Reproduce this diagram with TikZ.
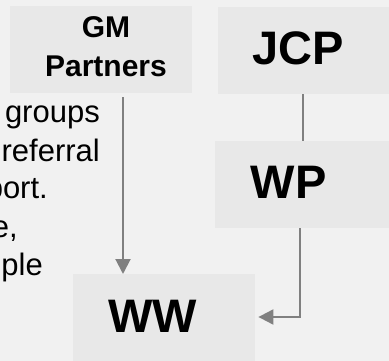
\documentclass[tikz,border=0pt]{standalone}
\usepackage{fontspec}
\setmainfont{Liberation Sans}
\usetikzlibrary{arrows.meta,calc}
\definecolor{bgc}{HTML}{F1F1F1}
\definecolor{boxc}{HTML}{E8E8E8}
\definecolor{linec}{HTML}{808080}
\begin{document}
\begin{tikzpicture}[x=1pt,y=-1pt,
 box/.style={fill=boxc, draw=none, inner sep=0pt, anchor=north west},
 big/.style={font=\fontsize{47}{50}\selectfont\bfseries, inner sep=0pt, anchor=base},
 mid/.style={font=\fontsize{30}{39}\selectfont\bfseries, inner sep=0pt, anchor=base},
 body/.style={font=\fontsize{31}{38}\selectfont, inner sep=0pt, anchor=base east},
 conn/.style={draw=linec, line width=2pt},
 arr/.style={conn, -{Triangle[length=15pt,width=15pt]}}]
\clip (0,0) rectangle (389,361);
\fill[bgc] (0,0) rectangle (389,361);
% boxes
\node[box, minimum width=182pt, minimum height=87pt] (gm) at (10,6) {};
\node[box, minimum width=171pt, minimum height=87pt] (jcp) at (218,7) {};
\node[box, minimum width=174pt, minimum height=87pt] (wp) at (215,141) {};
\node[box, minimum width=182pt, minimum height=87pt] (ww) at (73,274) {};
% box texts
\node[mid] (gmt1) at (106,38) {GM};
\node[mid] (gmt2) at (106,77) {Partners};
\node[big] (jcpt) at (298,65) {JCP};
\node[big] (wpt) at (288.5,198) {WP};
\node[big] (wwt) at (152.5,332) {WW};
% clipped paragraph
\node[body] (p1) at (100,123) {groups};
\node[body] (p2) at (100,161) {referral};
\node[body] (p3) at (48,199) {port.};
\node[body] (p4) at (18,237) {e,};
\node[body] (p5) at (43,275) {ople};
% connectors
\coordinate (gx) at (123,0);
\coordinate (jx) at (303,0);
\coordinate (wturn) at (300,317);
\draw[arr] ($(gm.south -| gx)+(0,4)$) -- (ww.north -| gx);
\draw[conn] (jcp.south -| jx) -- (wp.north -| jx);
\draw[arr] (wp.south -| wturn) -- (wturn) -- ($(ww.east |- wturn)+(3,0)$);
\end{tikzpicture}
\end{document}
